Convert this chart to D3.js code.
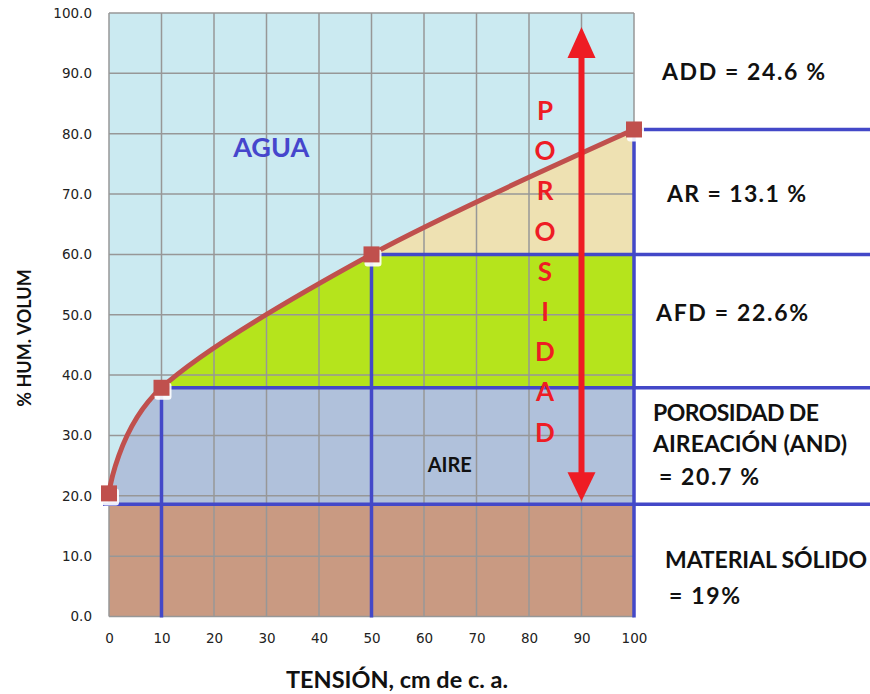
<!DOCTYPE html>
<head>
    <meta charset="utf-8">
    <style>
        body { margin: 0; background: #fff; }
        svg { display: block; background: #fff; }
        .tick text { font-family: 'DejaVu Sans', sans-serif; font-size: 13.5px; fill: #222; }
        .grid line { stroke: #979797; stroke-width: 1.5px; }
        .blue { stroke: #4348c8; stroke-width: 3.5px; fill: none; }
        path.curve { fill: none; stroke: #c0504d; stroke-width: 5px; }
        .lbl { font-family: Lato, sans-serif; font-weight: bold; fill: #111; }
    </style>
</head>
<body>
    <script src="https://d3js.org/d3.v7.min.js"></script>
    <script>
        // curve points
        var tension = [0, 10, 50, 100];
        var humedad = [20.4, 37.9, 60.0, 80.7];
        var solido = 18.6;

        var xTicks = [0, 10, 20, 30, 40, 50, 60, 70, 80, 90, 100];
        var yTicks = [0, 10, 20, 30, 40, 50, 60, 70, 80, 90, 100];

        // colour bands under the curve: [from, to]
        var bandLo = [0, solido, humedad[1], humedad[2]];
        var bandHi = [solido, humedad[1], humedad[2], humedad[3]];
        var bandColor = ['#c99a82', '#b0c1db', '#b5e41c', '#eee1b2'];

        var porosidad = 'POROSIDAD'.split('');
        var rightLabels = [
            ['ADD = 24.6 %'],
            ['AR = 13.1 %'],
            ['AFD = 22.6%'],
            ['POROSIDAD DE', 'AIREACIÓN (AND)', '= 20.7 %'],
            ['MATERIAL SÓLIDO', '= 19%']
        ];

        var W = 870, H = 694;
        var svg = d3.select('body').append('svg')
                    .attr('width', W).attr('height', H);

        var x = d3.scaleLinear().domain([0, 100]).range([109, 634]);
        var y = d3.scaleLinear().domain([0, 100]).range([616.5, 13]);

        var pts = tension.map((t, i) => [t, humedad[i]]);
        var crv = d3.curveCardinal.tension(0);

        // background
        svg.append('rect')
           .attr('x', x(0)).attr('y', y(100))
           .attr('width', x(100) - x(0)).attr('height', y(0) - y(100))
           .attr('fill', '#cbeaf1');

        var area = d3.area()
                     .x(d => x(d[0]))
                     .y0(y(0))
                     .y1(d => y(d[1]))
                     .curve(crv);

        var defs = svg.append('defs');
        bandColor.forEach(function(c, i) {
            defs.append('clipPath').attr('id', 'band' + i)
                .append('rect')
                .attr('x', x(0)).attr('width', x(100) - x(0))
                .attr('y', y(bandHi[i]))
                .attr('height', y(bandLo[i]) - y(bandHi[i]));
            svg.append('path')
               .datum(pts)
               .attr('d', area)
               .attr('fill', c)
               .attr('clip-path', 'url(#band' + i + ')');
        });

        // grid
        var grid = svg.append('g').attr('class', 'grid');
        grid.selectAll('.v').data(xTicks).enter().append('line')
            .attr('x1', d => x(d)).attr('x2', d => x(d))
            .attr('y1', y(0)).attr('y2', y(100));
        grid.selectAll('.h').data(yTicks).enter().append('line')
            .attr('y1', d => y(d)).attr('y2', d => y(d))
            .attr('x1', x(0)).attr('x2', x(100));

        // axes
        svg.append('g')
           .attr('transform', 'translate(' + x(0) + ',0)')
           .call(d3.axisLeft(y).tickValues(yTicks)
                   .tickFormat(d3.format('.1f')).tickSize(0).tickPadding(17))
           .call(g => g.select('.domain').remove());
        svg.append('g')
           .attr('transform', 'translate(0,' + y(0) + ')')
           .call(d3.axisBottom(x).tickValues(xTicks).tickSize(0).tickPadding(17))
           .call(g => g.select('.domain').remove());

        // blue guide lines
        svg.append('line').attr('class', 'blue')
           .attr('x1', x(0) - 6).attr('x2', W)
           .attr('y1', y(solido)).attr('y2', y(solido));
        pts.slice(1).forEach(function(p) {
            svg.append('path').attr('class', 'blue')
               .attr('d', 'M' + W + ',' + y(p[1]) +
                          'H' + x(p[0]) + 'V' + (y(0) + 1));
        });

        // curve and markers
        svg.append('path').datum(pts).attr('class', 'curve')
           .attr('d', d3.line().x(d => x(d[0])).y(d => y(d[1])).curve(crv));

        var mk = svg.selectAll('.mk').data(pts).enter().append('g')
                    .attr('transform', d => 'translate(' + x(d[0]) + ',' + y(d[1]) + ')');
        mk.append('rect').attr('x', -7).attr('y', -5).attr('width', 17).attr('height', 17)
          .attr('rx', 3).attr('fill', '#fff').attr('opacity', 0.9);
        mk.append('rect').attr('x', -8).attr('y', -8).attr('width', 16).attr('height', 16)
          .attr('fill', '#c0504d');

        // porosity arrow
        var ax = x(90), aTop = 97.7, aBot = 19.1;
        svg.append('line')
           .attr('x1', ax).attr('x2', ax)
           .attr('y1', y(aTop) + 20).attr('y2', y(aBot) - 20)
           .attr('stroke', '#ee1c24').attr('stroke-width', 6);
        svg.append('path').attr('fill', '#ee1c24')
           .attr('d', 'M' + ax + ',' + y(aTop) + 'l14,31h-28z');
        svg.append('path').attr('fill', '#ee1c24')
           .attr('d', 'M' + ax + ',' + y(aBot) + 'l14,-29h-28z');

        svg.selectAll('.por').data(porosidad).enter().append('text')
           .attr('x', 545).attr('y', (d, i) => 120 + i * 40.2)
           .attr('text-anchor', 'middle')
           .style('font-family', 'Lato, sans-serif').style('font-weight', 'bold')
           .style('font-size', '26px').attr('fill', '#ee1c24')
           .text(d => d);

        // region names
        svg.append('text').attr('x', x(30.9)).attr('y', y(76.1))
           .attr('text-anchor', 'middle')
           .style('font-family', 'Lato, sans-serif').style('font-weight', 'bold')
           .style('font-size', '27px').attr('fill', '#4646cc').text('AGUA');
        svg.append('text').attr('x', x(64.9)).attr('y', y(24.0))
           .attr('text-anchor', 'middle')
           .style('font-family', 'Lato, sans-serif').style('font-weight', 'bold')
           .style('font-size', '20px').attr('fill', '#111').text('AIRE');

        // right side labels
        var lx = [662, 667, 656, 653, 665];
        var ly = [[80], [202], [321], [421, 452, 485], [568, 604]];
        var ldx = [[0], [0], [0], [0, 0, 6], [0, 4]];
        var lw = [[163], [139], [152], [166, 194, 100], [202, 71]];
        rightLabels.forEach(function(lines, i) {
            lines.forEach(function(s, j) {
                svg.append('text').attr('class', 'lbl')
                   .attr('x', lx[i] + ldx[i][j]).attr('y', ly[i][j])
                   .attr('textLength', lw[i][j])
                   .attr('lengthAdjust', 'spacing')
                   .style('font-size', '23px').text(s);
            });
        });

        // axis titles
        svg.append('text').attr('class', 'lbl')
           .attr('transform', 'translate(31,338) rotate(-90)')
           .attr('text-anchor', 'middle')
           .style('font-size', '18px').text('% HUM. VOLUM');
        svg.append('text').attr('class', 'lbl')
           .attr('x', 397).attr('y', 688)
           .attr('text-anchor', 'middle')
           .attr('textLength', 222).attr('lengthAdjust', 'spacingAndGlyphs')
           .style('font-size', '22px').text('TENSIÓN, cm de c. a.');
    </script>
</body>
